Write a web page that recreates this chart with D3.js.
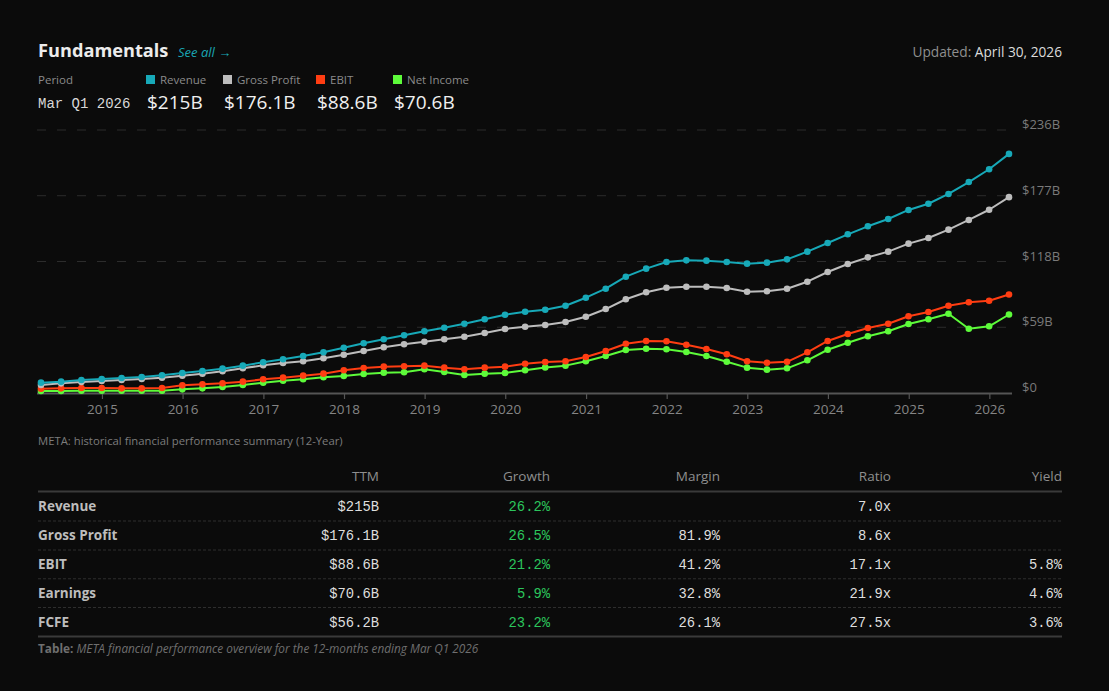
<!DOCTYPE html>
<html>
<head>
<meta charset="utf-8">
<script src="https://cdn.jsdelivr.net/npm/d3@7/dist/d3.min.js"></script>
<style>
  html, body { margin: 0; padding: 0; background: #0b0b0b; }
  svg { display: block; }
</style>
</head>
<body>
<svg id="chart" width="1109" height="691"></svg>
<script>
// ---------- DATA ----------
const quarters = [
  "2014-03-31","2014-06-30","2014-09-30","2014-12-31",
  "2015-03-31","2015-06-30","2015-09-30","2015-12-31",
  "2016-03-31","2016-06-30","2016-09-30","2016-12-31",
  "2017-03-31","2017-06-30","2017-09-30","2017-12-31",
  "2018-03-31","2018-06-30","2018-09-30","2018-12-31",
  "2019-03-31","2019-06-30","2019-09-30","2019-12-31",
  "2020-03-31","2020-06-30","2020-09-30","2020-12-31",
  "2021-03-31","2021-06-30","2021-09-30","2021-12-31",
  "2022-03-31","2022-06-30","2022-09-30","2022-12-31",
  "2023-03-31","2023-06-30","2023-09-30","2023-12-31",
  "2024-03-31","2024-06-30","2024-09-30","2024-12-31",
  "2025-03-31","2025-06-30","2025-09-30","2025-12-31",
  "2026-03-31"
];
const revenue = [
  9.3, 10.2, 11.7, 12.6, 13.5, 14.4, 15.9, 18.0, 19.8, 21.9, 24.6, 27.6, 30.3,
  33.3, 36.6, 40.7, 44.7, 48.3, 51.9, 55.5, 58.7, 62.3, 66.3, 70.4, 73.1,
  74.9, 78.5, 85.7, 93.8, 104.6, 111.8, 117.8, 119.3, 119.0, 117.8, 116.3, 117.2,
  120.2, 127.1, 134.9, 142.7, 149.9, 156.5, 164.6, 170.2, 179.0, 189.7, 201.2, 215.0
];
const grossProfit = [
  7.2, 8.7, 9.9, 10.8, 11.7, 12.6, 13.8, 15.6, 17.4, 19.5, 22.2, 24.9, 27.0,
  28.5, 31.2, 34.4, 37.8, 41.1, 43.8, 46.1, 48.3, 50.6, 54.0, 57.6, 59.6,
  61.2, 63.8, 68.6, 75.5, 84.3, 90.6, 94.7, 95.6, 95.6, 94.4, 91.1, 91.5,
  93.8, 100.1, 108.8, 116.0, 122.0, 127.1, 134.3, 139.4, 146.9, 155.6, 164.8, 176.1
];
const ebit = [
  3.9, 4.2, 4.5, 4.5, 4.2, 4.2, 4.5, 6.9, 7.8, 8.7, 10.2, 12.3, 13.8,
  15.6, 17.4, 20.4, 22.5, 23.7, 24.0, 24.6, 22.8, 21.3, 22.8, 23.7, 26.3,
  27.8, 28.5, 32.4, 37.8, 44.3, 46.8, 46.5, 43.4, 39.6, 34.8, 28.5, 27.2,
  28.0, 36.6, 46.8, 53.1, 58.5, 62.3, 69.0, 72.8, 78.5, 81.6, 83.0, 88.6
];
const netIncome = [
  1.8, 1.8, 2.1, 2.1, 2.1, 2.1, 2.1, 3.3, 4.2, 5.4, 7.2, 9.3, 11.0,
  12.3, 14.1, 15.3, 17.1, 18.3, 18.6, 21.3, 18.9, 16.2, 17.4, 18.0, 20.4,
  23.0, 24.6, 28.5, 33.3, 38.7, 39.8, 39.3, 36.9, 33.3, 28.1, 22.8, 21.0,
  22.2, 29.4, 38.9, 45.2, 51.0, 55.5, 62.0, 66.3, 71.3, 57.8, 60.0, 70.6
];
const seriesNames  = ["Revenue", "Gross Profit", "EBIT", "Net Income"];
const seriesColors = ["#17a9b8", "#bdbdbd", "#ff3d12", "#5dfb3a"];
const seriesLatest = ["$215B", "$176.1B", "$88.6B", "$70.6B"];
const yTickValues  = [0, 59.1, 118.25, 177.4, 236.5];
const yTickLabels  = ["$0", "$59B", "$118B", "$177B", "$236B"];
const xTickYears   = [2015, 2016, 2017, 2018, 2019, 2020, 2021, 2022, 2023, 2024, 2025, 2026];

const tableColumns = ["TTM", "Growth", "Margin", "Ratio", "Yield"];
const tableRows    = ["Revenue", "Gross Profit", "EBIT", "Earnings", "FCFE"];
const colTTM    = ["$215B", "$176.1B", "$88.6B", "$70.6B", "$56.2B"];
const colGrowth = ["26.2%", "26.5%", "21.2%", "5.9%", "23.2%"];
const colMargin = ["", "81.9%", "41.2%", "32.8%", "26.1%"];
const colRatio  = ["7.0x", "8.6x", "17.1x", "21.9x", "27.5x"];
const colYield  = ["", "", "5.8%", "4.6%", "3.6%"];

// ---------- SETUP ----------
const SANS = "'Open Sans', 'Noto Sans', sans-serif";
const MONO = "'Liberation Mono', 'DejaVu Sans Mono', monospace";
const svg = d3.select("#chart");
svg.append("rect").attr("width", 1109).attr("height", 691).attr("fill", "#0b0b0b");

const parse = d3.timeParse("%Y-%m-%d");
const dates = quarters.map(parse);
const allSeries = [revenue, grossProfit, ebit, netIncome];

// ---------- HEADER ----------
svg.append("text").attr("x", 38).attr("y", 57)
  .attr("font-family", SANS).attr("font-size", 18.2).attr("font-weight", 700)
  .attr("fill", "#ececec").text("Fundamentals");
svg.append("text").attr("x", 178).attr("y", 57)
  .attr("font-family", SANS).attr("font-size", 13).attr("font-style", "italic")
  .attr("fill", "#1aa6b4").text("See all \u2192");

const upd = svg.append("text").attr("x", 1062).attr("y", 57).attr("text-anchor", "end")
  .attr("font-family", SANS).attr("font-size", 13.7);
upd.append("tspan").attr("fill", "#8f8f8f").text("Updated: ");
upd.append("tspan").attr("fill", "#dcdcdc").text("April 30, 2026");

svg.append("text").attr("x", 38).attr("y", 84)
  .attr("font-family", SANS).attr("font-size", 11.5).attr("fill", "#8a8a8a").text("Period");
svg.append("text").attr("x", 38).attr("y", 108)
  .attr("font-family", MONO).attr("font-size", 14).attr("fill", "#d8d8d8").text("Mar Q1 2026");

const legendX = [146, 223, 316, 393];
seriesNames.forEach((name, i) => {
  const g = svg.append("g").attr("transform", `translate(${legendX[i]},0)`);
  g.append("rect").attr("x", 0).attr("y", 75).attr("width", 9).attr("height", 9)
    .attr("fill", seriesColors[i]);
  g.append("text").attr("x", 14).attr("y", 84)
    .attr("font-family", SANS).attr("font-size", 11.5).attr("fill", "#8a8a8a").text(name);
  g.append("text").attr("x", 1).attr("y", 109)
    .attr("font-family", SANS).attr("font-size", 19).attr("fill", "#f0f0f0").text(seriesLatest[i]);
});

// ---------- CHART ----------
const x = d3.scaleTime().domain(d3.extent(dates)).range([41, 1009]);
const y = d3.scaleLinear().domain([0, 236.5]).range([393, 130]);
const plotLeft = 37, plotRight = 1012;

// gridlines
svg.append("g").selectAll("line")
  .data(yTickValues.slice(1))
  .join("line")
  .attr("x1", plotLeft).attr("x2", 1008)
  .attr("y1", d => y(d)).attr("y2", d => y(d))
  .attr("stroke", "#2c2c2c").attr("stroke-width", 1)
  .attr("stroke-dasharray", "9,11");

// y labels
svg.append("g").selectAll("text")
  .data(yTickValues)
  .join("text")
  .attr("x", 1022).attr("y", d => y(d) - 1)
  .attr("font-family", SANS).attr("font-size", 13).attr("fill", "#7a7a7a")
  .text((d, i) => yTickLabels[i]);

// x axis
const xAxis = d3.axisBottom(x)
  .tickValues(xTickYears.map(yr => new Date(yr, 0, 1)))
  .tickFormat(d3.timeFormat("%Y"))
  .tickSize(6).tickSizeOuter(0).tickPadding(5);
const gx = svg.append("g").attr("transform", "translate(0,393)").call(xAxis);
gx.select(".domain").remove();
gx.selectAll(".tick line").attr("stroke", "#555").attr("stroke-width", 1.2);
gx.selectAll(".tick text").attr("fill", "#858585")
  .attr("font-family", SANS).attr("font-size", 13.5);
svg.append("line").attr("x1", plotLeft).attr("x2", plotRight)
  .attr("y1", 393.5).attr("y2", 393.5).attr("stroke", "#555").attr("stroke-width", 2);

// lines and dots (draw bottom-up so Revenue ends on top)
const line = d3.line().x((d, i) => x(dates[i])).y(d => y(d));
[3, 2, 1, 0].forEach(si => {
  const vals = allSeries[si];
  svg.append("path").datum(vals)
    .attr("d", line).attr("fill", "none")
    .attr("stroke", seriesColors[si]).attr("stroke-width", 2)
    .attr("stroke-linejoin", "round");
  svg.append("g").selectAll("circle").data(vals).join("circle")
    .attr("cx", (d, i) => x(dates[i])).attr("cy", d => y(d))
    .attr("r", 3.3).attr("fill", seriesColors[si]);
});

svg.append("text").attr("x", 38).attr("y", 445)
  .attr("font-family", SANS).attr("font-size", 11.3).attr("fill", "#7c7c7c")
  .text("META: historical financial performance summary (12-Year)");

// ---------- TABLE ----------
const colRight = [379, 550, 720, 891, 1062];
const rowY = [506, 535, 564, 592.5, 621.5];
const colData = [colTTM, colGrowth, colMargin, colRatio, colYield];

svg.append("g").selectAll("text").data(tableColumns).join("text")
  .attr("x", (d, i) => colRight[i]).attr("y", 481)
  .attr("text-anchor", "end").attr("font-family", SANS).attr("font-size", 13.5)
  .attr("fill", "#8f8f8f").text(d => d);

svg.append("line").attr("x1", 38).attr("x2", 1062).attr("y1", 491.5).attr("y2", 491.5)
  .attr("stroke", "#3a3a3a").attr("stroke-width", 2);
svg.append("line").attr("x1", 38).attr("x2", 1062).attr("y1", 636.5).attr("y2", 636.5)
  .attr("stroke", "#3a3a3a").attr("stroke-width", 2);
svg.append("g").selectAll("line").data(rowY.slice(0, 4)).join("line")
  .attr("x1", 38).attr("x2", 1062)
  .attr("y1", (d, i) => (rowY[i] + rowY[i + 1]) / 2 + 0.5)
  .attr("y2", (d, i) => (rowY[i] + rowY[i + 1]) / 2 + 0.5)
  .attr("stroke", "#2e2e2e").attr("stroke-width", 1).attr("stroke-dasharray", "3,2");

tableRows.forEach((r, ri) => {
  svg.append("text").attr("x", 38).attr("y", rowY[ri] + 5)
    .attr("font-family", SANS).attr("font-size", 13.5).attr("font-weight", 700)
    .attr("fill", "#bdbdbd").text(r);
  colData.forEach((col, ci) => {
    svg.append("text").attr("x", colRight[ci]).attr("y", rowY[ri] + 5)
      .attr("text-anchor", "end").attr("font-family", MONO).attr("font-size", 13.8)
      .attr("fill", ci === 1 ? "#2cc55c" : "#dedede").text(col[ri]);
  });
});

const foot = svg.append("text").attr("x", 38).attr("y", 653)
  .attr("font-family", SANS).attr("font-size", 11.8).attr("fill", "#6f6f6f");
foot.append("tspan").attr("font-weight", 700).text("Table: ");
foot.append("tspan").attr("font-style", "italic")
  .text("META financial performance overview for the 12-months ending Mar Q1 2026");
</script>
</body>
</html>
